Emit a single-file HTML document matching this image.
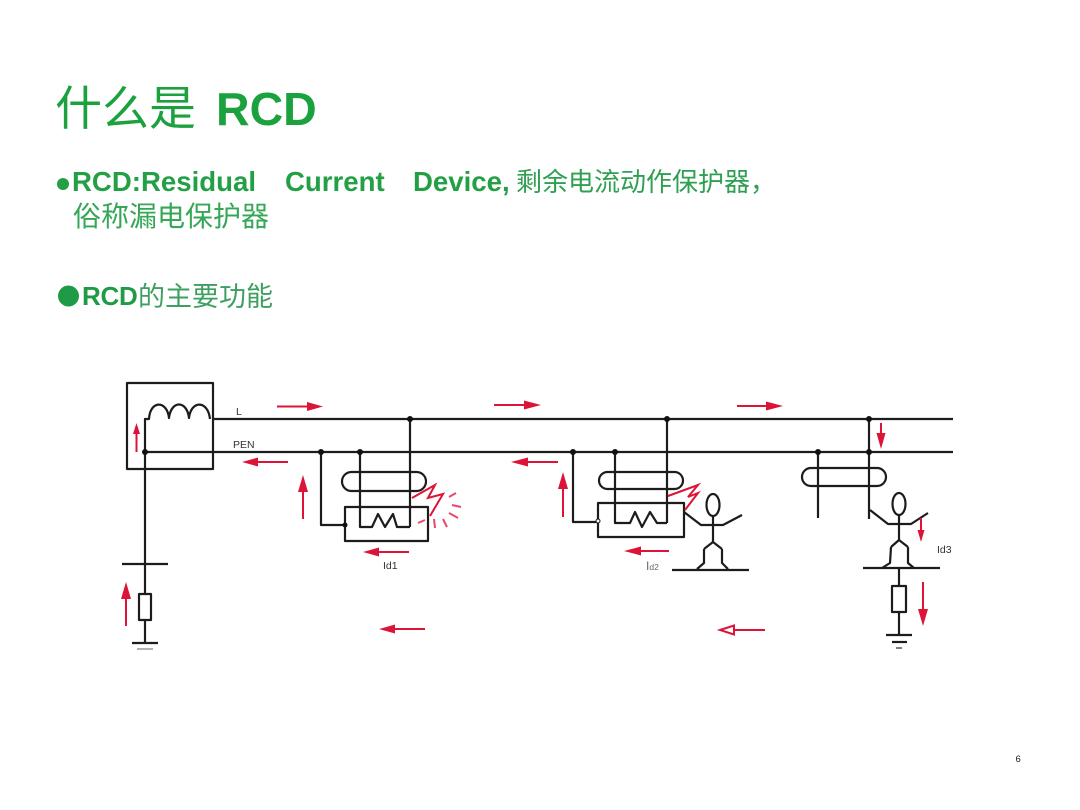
<!DOCTYPE html>
<html><head><meta charset="utf-8"><style>
html,body{margin:0;padding:0;background:#fff;width:1080px;height:810px;overflow:hidden}
svg{display:block}
.cj{font-family:"Liberation Sans","Noto Sans CJK SC",sans-serif}
.en{font-family:"Liberation Sans",sans-serif;font-weight:bold}
.lb{font-family:"Liberation Sans",sans-serif;fill:#333;font-size:10.5px}
.k{fill:none;stroke:#1c1c1c;stroke-width:2.2;stroke-linejoin:round}
.r{fill:none;stroke:#dc1437;stroke-width:2}
.h{fill:#dc1437;stroke:none}
.d{fill:#111}
</style></head><body>
<svg width="1080" height="810" viewBox="0 0 1080 810" xmlns="http://www.w3.org/2000/svg">
<rect width="1080" height="810" fill="#fff"/>
<text class="cj" x="55" y="125" font-size="47" fill="#1ba23f">什么是</text>
<text class="en" x="216" y="125" font-size="46.500" fill="#1ba23f">RCD</text>

<circle cx="63" cy="184" r="6" fill="#23a045"/>
<text class="en" x="72" y="191" font-size="27.6" fill="#23a045">RCD:Residual</text>
<text class="en" x="285" y="191" font-size="27.6" fill="#23a045">Current</text>
<text class="en" x="413" y="191" font-size="27.6" fill="#23a045">Device,</text>
<text class="cj" x="516" y="191" font-size="26" fill="#2f9f52">剩余电流动作保护器，</text>
<text class="cj" x="73" y="226" font-size="28" fill="#35a757">俗称漏电保护器</text>

<circle cx="68.500" cy="296" r="10.500" fill="#1f9a47"/>
<text class="en" x="82" y="305" font-size="26" fill="#1f9a47" letter-spacing="-.3">RCD</text>
<text class="cj" x="138" y="306" font-size="27" fill="#3d9f60">的主要功能</text>

<!-- main lines -->
<path class="k" d="M213 419H953M145 452H953"/>
<rect class="k" x="127" y="383" width="86" height="86"/>
<path class="k" d="M145 452V419H149C150 400 167 400 169 418C171 400 187 400 189 418C191 400 208 400 210 419"/>
<path class="k" d="M145 452V594M122 564H168M145 620V643M132 643H158"/>
<rect class="k" x="139" y="594" width="12" height="26"/>
<path d="M137 649H153" stroke="#999" stroke-width="1.500" fill="none"/>
<circle class="d" cx="145" cy="452" r="3"/>

<!-- unit 1 -->
<path class="k" d="M321 452V525H345M360 452V527H372L378 514L385 527L393 514L397 527H410M410 419V527"/>
<rect class="k" x="345" y="507" width="83" height="34"/>
<rect class="k" x="342" y="472" width="84" height="19" rx="9.500"/>
<circle class="d" cx="321" cy="452" r="3"/><circle class="d" cx="360" cy="452" r="3"/><circle class="d" cx="410" cy="419" r="3"/><circle class="d" cx="345" cy="525" r="2.500"/>
<path class="r" d="M412 498L435 485L428 498L443 494L430 516" stroke-width="2"/>
<path class="r" style="stroke:#e8496a" d="M418 523L425 520M434 519L435 528M443 519L447 527M449 513L458 518M452 505L461 507M449 497L456 493"/>

<!-- unit 2 -->
<path class="k" d="M573 452V522H598M615 452V523H630L635 512L642 527L650 512L657 523H667M667 419V523"/>
<rect class="k" x="598" y="503" width="86" height="34"/>
<rect class="k" x="599" y="472" width="84" height="17" rx="8.500"/>
<circle class="d" cx="573" cy="452" r="3"/><circle class="d" cx="615" cy="452" r="3"/><circle class="d" cx="667" cy="419" r="3"/>
<circle cx="598" cy="521" r="2" fill="#fff" stroke="#111" stroke-width="1"/>
<path class="r" d="M668 496L698 485L688 497L698 493L685 510" stroke-width="2"/>
<ellipse class="k" cx="713" cy="505" rx="6.500" ry="11"/>
<path class="k" d="M684 512L701 525H723L742 515M713 516V542M704 549L713 542L722 549M704 549V563L697 569M722 549V563L728 569M672 570H749"/>

<!-- unit 3 -->
<path class="k" d="M818 452V518M869 419V519"/>
<rect class="k" x="802" y="468" width="84" height="18" rx="9"/>
<circle class="d" cx="818" cy="452" r="3"/><circle class="d" cx="869" cy="452" r="3"/><circle class="d" cx="869" cy="419" r="3"/>
<ellipse class="k" cx="899" cy="504" rx="6.500" ry="11"/>
<path class="k" d="M870 510L888 524H911L928 513M899 515V540M891 547L899 540L908 547M891 547L890 563L882 568M908 547V563L914 568M863 568H940M899 568V586M899 612V635M886 635H912"/>
<rect class="k" x="892" y="586" width="14" height="26"/>
<path class="k" d="M892 642H907"/><path d="M896 648H902" stroke="#555" stroke-width="1.500"/>

<!-- right arrows -->
<path class="r" d="M277 406.500H310M494 405H530M737 406H772"/>
<polygon class="h" points="307,402 323,406.500 307,411"/>
<polygon class="h" points="524,400.500 541,405 524,409.500"/>
<polygon class="h" points="766,401.500 783,406 766,410.500"/>
<!-- left arrows -->
<path class="r" d="M288 462H255M558 462H524M409 552H375M425 629H391M669 551H636M765 630H732"/>
<polygon class="h" points="242,462 258,457.500 258,466.500"/>
<polygon class="h" points="511,462 528,457.500 528,466.500"/>
<polygon class="h" points="363,552 379,547.500 379,556.500"/>
<polygon class="h" points="379,629 395,624.500 395,633.500"/>
<polygon class="h" points="624,551 641,546.500 641,555.500"/>
<polygon points="720,630 734,625.500 734,634.500" fill="#fff" stroke="#dc1437" stroke-width="2"/>
<!-- up arrows -->
<path class="r" d="M303 488V519M563 485V517M126 595V626M136.500 430V452"/>
<polygon class="h" points="303,475 298,492 308,492"/>
<polygon class="h" points="563,472 558,489 568,489"/>
<polygon class="h" points="126,582 121,599 131,599"/>
<polygon class="h" points="136.500,423 133,434 140,434"/>
<!-- down arrows -->
<path class="r" d="M881 423V438M921 518V532M923 582V612"/>
<polygon class="h" points="881,449 876.500,433 885.500,433"/>
<polygon class="h" points="921,542 917.500,530 924.500,530"/>
<polygon class="h" points="923,626 918,609 928,609"/>

<text class="lb" x="236" y="415">L</text>
<text class="lb" x="233" y="448">PEN</text>
<text class="lb" x="383" y="569">Id1</text>
<text x="646" y="570" font-family="Liberation Sans,sans-serif" font-size="12" fill="#666">I<tspan font-size="8.500">d2</tspan></text>
<text class="lb" x="937" y="553">Id3</text>
<text x="1015.500" y="762" font-family="Liberation Sans,sans-serif" font-size="9.500" fill="#222">6</text>
</svg>
</body></html>
